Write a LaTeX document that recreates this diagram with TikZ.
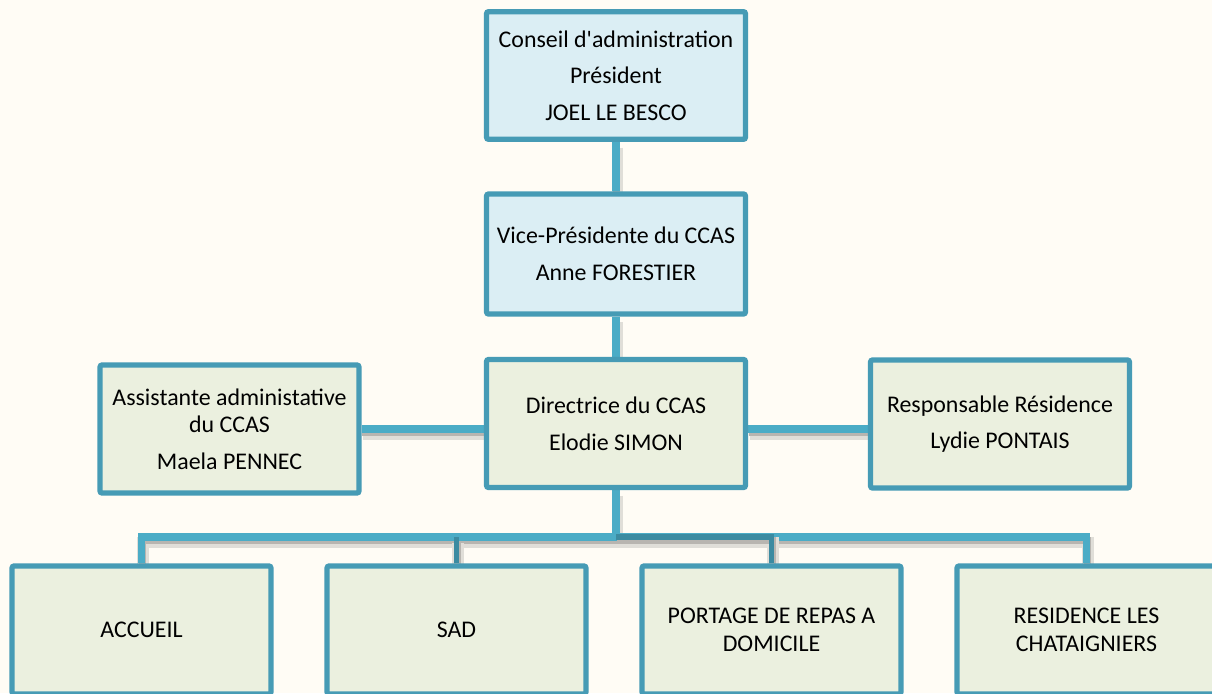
\documentclass[tikz,border=0pt]{standalone}
\usepackage{fontspec}
\setmainfont{Carlito}
\usepackage{tikz}
\definecolor{paper}{RGB}{255, 252, 245}
\definecolor{frame}{RGB}{70, 155, 181}
\definecolor{bright}{RGB}{75, 172, 198}
\definecolor{deep}{RGB}{60, 139, 161}
\definecolor{sky}{RGB}{219, 238, 244}
\definecolor{sage}{RGB}{235, 240, 223}
\pgfdeclarelayer{back}
\pgfdeclarelayer{wires}
\pgfsetlayers{back, wires, main}

\begin{document}
\begin{tikzpicture}[x=0.025cm, y=-0.025cm,
    box/.style={draw=frame, fill=sage, line width=3.8pt, rounded corners=1.5pt,
      minimum width=6.47cm, minimum height=3.2cm, align=center, inner sep=0pt,
      font=\fontsize{17}{19.6}\selectfont},
    headbox/.style={box, fill=sky},
    wire/.style={bright, line width=5pt,
      preaction={draw=paper!88!black, line width=8pt,
        transform canvas={xshift=1pt, yshift=-4pt}},
      preaction={draw=paper!72!black, line width=5pt,
        transform canvas={xshift=0.5pt, yshift=-2.5pt}}},
    darkwire/.style={wire, deep, line width=3.6pt}]

  \begin{pgfonlayer}{back}
    \fill[paper] (0, 0) rectangle (1212, 693);
  \end{pgfonlayer}
  \useasboundingbox (0, 0) rectangle (1212, 693);

  \node[headbox, minimum height=3.19cm] (conseil) at (616, 75.5)
    {Conseil d\textquotesingle{}administration\\[6.5pt]Président\\[6.5pt]JOEL LE BESCO};
  \node[headbox, minimum height=3.0cm] (vice) at (616, 254)
    {Vice-Présidente du CCAS\\[6.5pt]Anne FORESTIER};
  \node[box] (dir) at (616, 423.5) {Directrice du CCAS\\[6.5pt]Elodie SIMON};
  \node[box] (assist) at (229.5, 429)
    {Assistante administative\\du CCAS\\[6.5pt]Maela PENNEC};
  \node[box] (resp) at (1000, 424) {Responsable Résidence\\[6.5pt]Lydie PONTAIS};

  \node[box] (accueil) at (141.5, 630) {ACCUEIL};
  \node[box] (sad) at (456.5, 630) {SAD};
  \node[box] (portage) at (771.5, 630) {PORTAGE DE REPAS A\\DOMICILE};
  \node[box] (residence) at (1086.5, 630) {RESIDENCE LES\\CHATAIGNIERS};

  \coordinate (bus) at (616, 537);

  \begin{pgfonlayer}{wires}
    \draw[wire] (conseil.south) -- (vice.north);
    \draw[wire] (vice.south) -- (dir.north);
    \draw[wire] (assist.east) -- (assist.east -| dir.west);
    \draw[wire] (dir.east |- assist.east) -- (resp.west |- assist.east);
    \draw[wire] (dir.south) -- (bus);
    \draw[wire] (bus) -| (accueil.north);
    \draw[wire] (bus) -| (residence.north);
    \draw[darkwire] (sad.north |- bus) -- (sad.north);
    \draw[darkwire] (bus) -| (portage.north);
  \end{pgfonlayer}
\end{tikzpicture}
\end{document}
